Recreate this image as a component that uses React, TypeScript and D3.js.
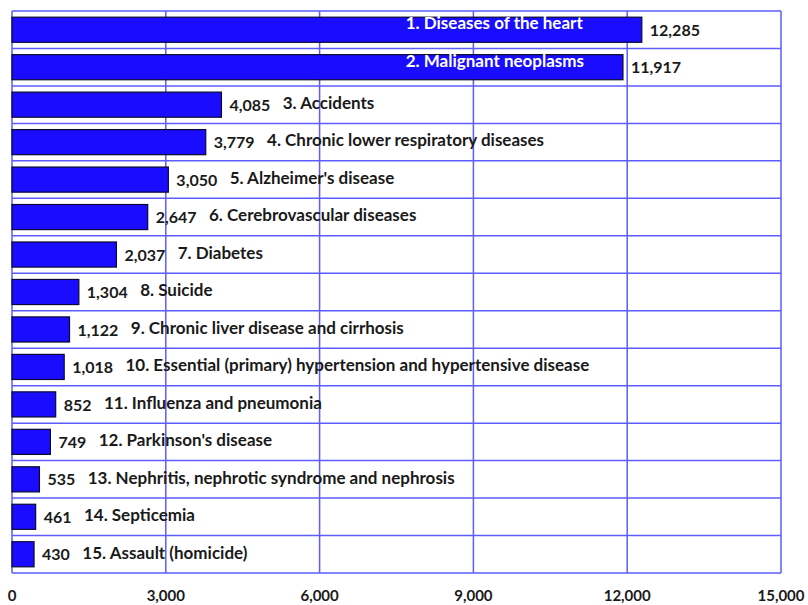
import React from "react";
import * as d3 from "d3";

const causes = [
  "1. Diseases of the heart",
  "2. Malignant neoplasms",
  "3. Accidents",
  "4. Chronic lower respiratory diseases",
  "5. Alzheimer's disease",
  "6. Cerebrovascular diseases",
  "7. Diabetes",
  "8. Suicide",
  "9. Chronic liver disease and cirrhosis",
  "10. Essential (primary) hypertension and hypertensive disease",
  "11. Influenza and pneumonia",
  "12. Parkinson's disease",
  "13. Nephritis, nephrotic syndrome and nephrosis",
  "14. Septicemia",
  "15. Assault (homicide)",
];

const deaths = [12285, 11917, 4085, 3779, 3050, 2647, 2037, 1304, 1122, 1018, 852, 749, 535, 461, 430];

const xTicks = [0, 3000, 6000, 9000, 12000, 15000];

const W = 808;
const H = 605;
const left = 12;
const right = 781;
const top = 11;
const bottom = 573;

const FONT = "Lato, 'Open Sans', sans-serif";

export default function App() {
  const x = d3.scaleLinear().domain([0, 15000]).range([left, right]);
  const y = d3
    .scaleBand<string>()
    .domain(causes)
    .range([top, bottom])
    .paddingInner(0.33)
    .paddingOuter(0.165);
  const step = y.step();
  const fmt = d3.format(",");
  const gridColor = "#5c5cff";
  const insideX = x(7680);

  const approxWidth = (s: string) => {
    let w = 0;
    for (const c of s) w += c === "," ? 3.9 : 9.1;
    return w;
  };

  const boundaries = causes.map((c) => (y(c) as number) - (step * 0.33) / 2);
  boundaries.push(bottom);

  return (
    <svg
      width={W}
      height={H}
      style={{ position: "absolute", left: 0, top: 0, background: "#fff" }}
      fontFamily={FONT}
    >
      <rect x={0} y={0} width={W} height={H} fill="#fff" />
      {boundaries.map((b, i) => (
        <line key={"h" + i} x1={left} x2={right} y1={b} y2={b} stroke={gridColor} strokeWidth={1.5} />
      ))}
      {xTicks.map((t) => (
        <line key={"v" + t} x1={x(t)} x2={x(t)} y1={top} y2={bottom} stroke={gridColor} strokeWidth={1.5} />
      ))}
      {causes.map((c, i) => {
        const by = y(c) as number;
        const bw = y.bandwidth();
        const v = deaths[i];
        const cy = by + bw / 2;
        const valStr = fmt(v);
        const vx = x(v) + 8;
        const inside = i < 2;
        return (
          <g key={c}>
            <rect
              x={x(0)}
              y={by}
              width={x(v) - x(0)}
              height={bw}
              fill="#1a0dff"
              stroke="#0a0a30"
              strokeWidth={1.2}
            />
            <text
              x={vx}
              y={cy + 2}
              dominantBaseline="middle"
              fontSize={16}
              fontWeight={700}
              fill="#1a1a1a"
            >
              {valStr}
            </text>
            <text
              x={inside ? insideX : vx + approxWidth(valStr) + 13}
              y={inside ? cy - 5 : cy}
              dominantBaseline="middle"
              fontSize={17}
              fontWeight={700}
              fill={inside ? "#ffffff" : "#1a1a1a"}
            >
              {c}
            </text>
          </g>
        );
      })}
      {xTicks.map((t) => (
        <text
          key={"t" + t}
          x={x(t)}
          y={597}
          textAnchor="middle"
          dominantBaseline="middle"
          fontSize={15}
          fontWeight={700}
          fill="#1a1a1a"
        >
          {fmt(t)}
        </text>
      ))}
    </svg>
  );
}
